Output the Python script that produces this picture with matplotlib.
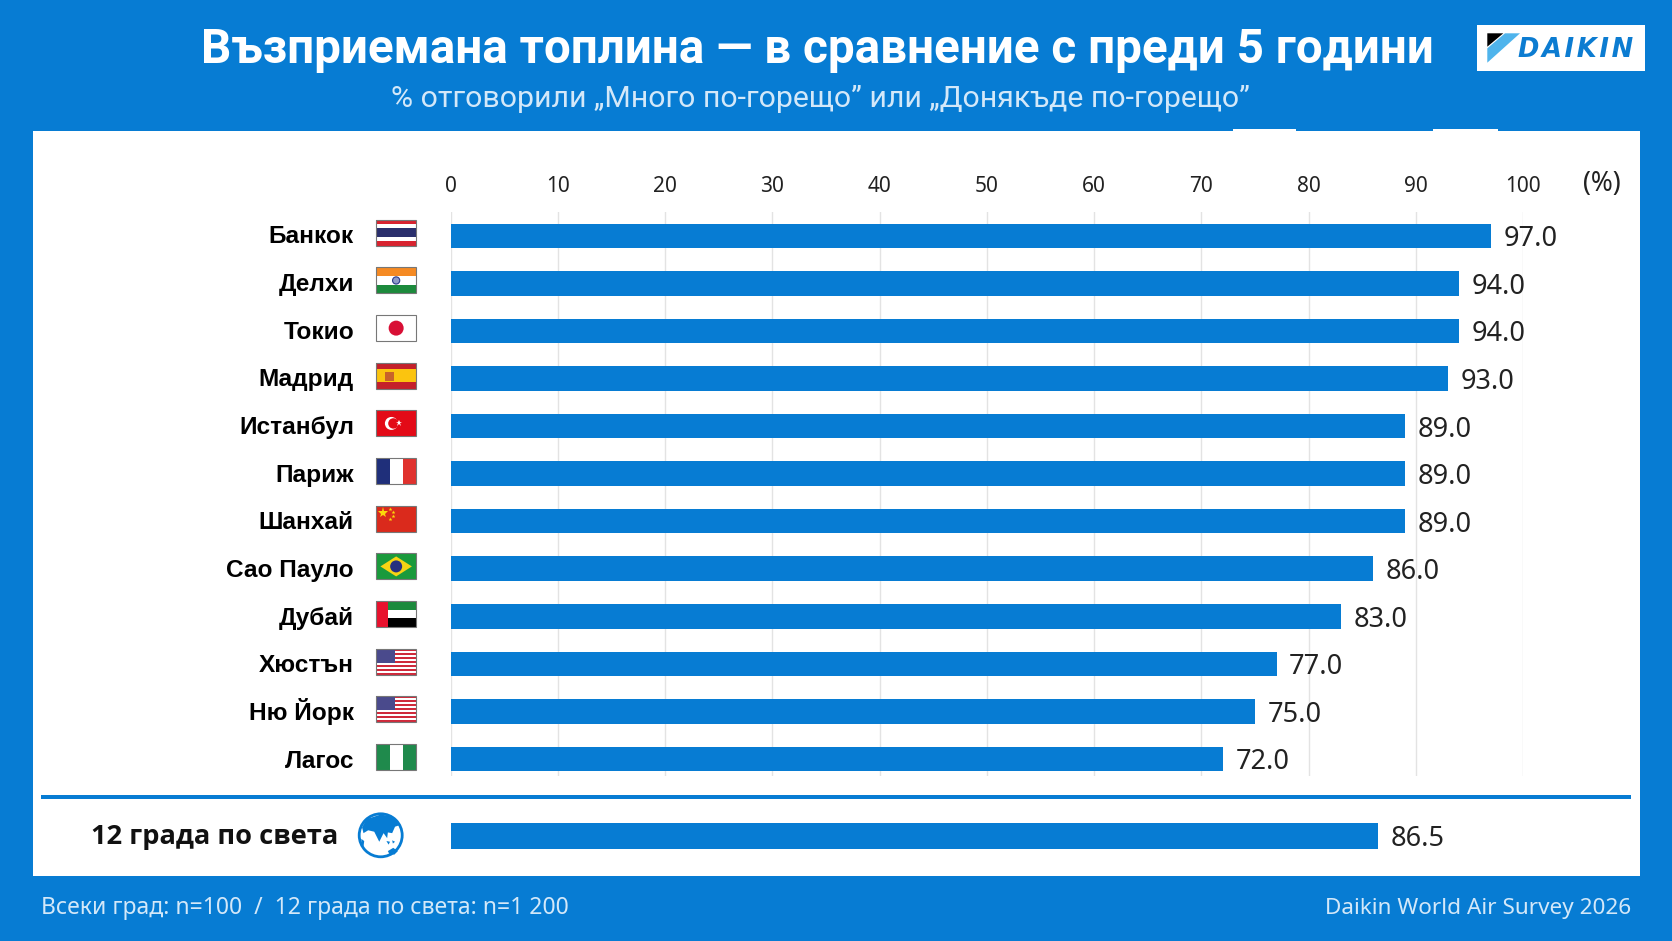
import matplotlib
matplotlib.use('Agg')
import matplotlib.pyplot as plt
from matplotlib.patches import Rectangle, Circle, Polygon

cities = ['Банкок', 'Делхи', 'Токио', 'Мадрид', 'Истанбул', 'Париж', 'Шанхай',
          'Сао Пауло', 'Дубай', 'Хюстън', 'Ню Йорк', 'Лагос']
flags = ['th', 'in', 'jp', 'es', 'tr', 'fr', 'cn', 'br', 'ae', 'us', 'us', 'ng']
values = [97.0, 94.0, 94.0, 93.0, 89.0, 89.0, 89.0, 86.0, 83.0, 77.0, 75.0, 72.0]
global_label = '12 града по света'
global_value = 86.5
ticks = [0, 10, 20, 30, 40, 50, 60, 70, 80, 90, 100]

BLUE = '#077cd3'
W, H = 1672, 941

plt.rcParams['font.family'] = ['Noto Sans', 'DejaVu Sans']

fig = plt.figure(figsize=(W / 100, H / 100), dpi=100, facecolor=BLUE)

# pixel canvas for the panel, logo and flags
bg = fig.add_axes([0, 0, 1, 1], zorder=0)
bg.set_xlim(0, W)
bg.set_ylim(H, 0)
bg.axis('off')


def px_axes(x0, y0, x1, y1):
    return fig.add_axes([x0 / W, 1 - y1 / H, (x1 - x0) / W, (y1 - y0) / H], zorder=2, facecolor='none')


def stripes(x, y, w, h, cols):
    for i, c in enumerate(cols):
        bg.add_patch(Rectangle((x, y + i * h / len(cols)), w, h / len(cols), color=c, lw=0))


def vstripes(x, y, w, h, cols):
    for i, c in enumerate(cols):
        bg.add_patch(Rectangle((x + i * w / len(cols), y), w / len(cols), h, color=c, lw=0))


def draw_flag(code, x, y, w=39.5, h=26):
    if code == 'th':
        hs = ['#d8232f', 'white', '#2a2f6c', '#2a2f6c', 'white', '#d8232f']
        stripes(x, y, w, h, hs)
    elif code == 'in':
        stripes(x, y, w, h, ['#f58a23', 'white', '#1c8a3c'])
        bg.add_patch(Circle((x + w / 2, y + h / 2), 3.6, fc='#8f9bc9', ec='#2b3a8c', lw=0.8))
    elif code == 'jp':
        bg.add_patch(Rectangle((x, y), w, h, fc='white', lw=0))
        bg.add_patch(Circle((x + w / 2, y + h / 2), 7.5, color='#d80f35', lw=0))
    elif code == 'es':
        stripes(x, y, w, h, ['#c4202a', '#fbc40f', '#fbc40f', '#c4202a'])
        bg.add_patch(Rectangle((x + 9, y + 9), 9, 9, color='#c8622a', lw=0))
    elif code == 'tr':
        bg.add_patch(Rectangle((x, y), w, h, color='#e30a17', lw=0))
        bg.add_patch(Circle((x + 15, y + h / 2), 6.5, color='white', lw=0))
        bg.add_patch(Circle((x + 17, y + h / 2), 5.2, color='#e30a17', lw=0))
        bg.plot(x + 23, y + h / 2, marker='*', ms=5, color='white', mew=0)
    elif code == 'fr':
        vstripes(x, y, w, h, ['#1f2f7a', 'white', '#e0322e'])
    elif code == 'cn':
        bg.add_patch(Rectangle((x, y), w, h, color='#da2a1c', lw=0))
        bg.plot(x + 7, y + 7, marker='*', ms=8, color='#fbd90a', mew=0)
        for dx, dy in [(14, 3), (17, 6), (17, 10), (14, 13)]:
            bg.plot(x + dx, y + dy, marker='*', ms=3, color='#fbd90a', mew=0)
    elif code == 'br':
        bg.add_patch(Rectangle((x, y), w, h, color='#1a9a3c', lw=0))
        bg.add_patch(Polygon([(x + 4, y + h / 2), (x + w / 2, y + 3), (x + w - 4, y + h / 2), (x + w / 2, y + h - 3)],
                             color='#f7d414', lw=0))
        bg.add_patch(Circle((x + w / 2, y + h / 2), 6, color='#27307f', lw=0))
    elif code == 'ae':
        stripes(x + w * 0.3, y, w * 0.7, h, ['#1c8a3c', 'white', 'black'])
        bg.add_patch(Rectangle((x, y), w * 0.3, h, color='#e8112d', lw=0))
    elif code == 'us':
        stripes(x, y, w, h, ['#cf2a3b', 'white'] * 6 + ['#cf2a3b'])
        bg.add_patch(Rectangle((x, y), w * 0.46, h * 0.54, color='#4a4a8c', lw=0))
    elif code == 'ng':
        vstripes(x, y, w, h, ['#1f8a4c', 'white', '#1f8a4c'])
    bg.add_patch(Rectangle((x, y), w, h, fill=False, ec='#777777', lw=0.8))


def draw_globe(cx, cy, r):
    land = [
        [(38, 68), (50, 45), (90, 32), (125, 38), (142, 62), (130, 66), (122, 84), (110, 82), (108, 98),
         (98, 84), (86, 108), (72, 80), (55, 76), (42, 84)],
        [(110, 134), (125, 125), (138, 134), (128, 144), (114, 142)],
        [(36, 100), (44, 106), (42, 122), (36, 114)],
        [(106, 106), (116, 108), (112, 116)],
        [(122, 104), (130, 108), (124, 113)],
    ]
    bg.add_patch(Circle((cx, cy), r, fc='white', ec=BLUE, lw=2))
    for pts in land:
        bg.add_patch(Polygon([(cx + (a - 90) / 60 * r, cy + (b - 90) / 60 * r) for a, b in pts], color=BLUE, lw=0))


# white panel and the rule above the global row
bg.add_patch(Rectangle((32.5, 130.5), 1607.5, 745, color='white', lw=0))
bg.add_patch(Rectangle((1233, 129), 63, 2, color='white', lw=0))
bg.add_patch(Rectangle((1433, 129), 65, 2, color='white', lw=0))
bg.add_patch(Rectangle((41, 794.7), 1590, 4.6, color=BLUE, lw=0))

# title block
bg.text(817.5, 62.5, 'Възприемана топлина — в сравнение с преди 5 години', color='white',
        fontsize=34.3, fontweight='bold', family='Roboto', ha='center', va='baseline')
bg.text(820.5, 106.5, '% отговорили „Много по-горещо” или „Донякъде по-горещо”', color='#d3e8f9',
        fontsize=21.8, family='Roboto', ha='center', va='baseline')

# logo
bg.add_patch(Rectangle((1477.3, 25), 167.7, 45.7, color='white', lw=0))
bg.add_patch(Polygon([(1487.3, 33.3), (1503.3, 33.3), (1487.3, 46.7)], color='black', lw=0))
bg.add_patch(Polygon([(1487.3, 62.7), (1520, 33.3), (1505, 33.3), (1487.3, 48.3)], color='#4fb4ec', lw=0))
bg.text(1576, 57, '\u200a'.join('DAIKIN'), color='#0c7cd1', fontsize=18.5, fontweight='bold', style='italic',
        family='DejaVu Sans', ha='center', va='baseline')

# footer
bg.text(41, 914, 'Всеки град: n=100  /  12 града по света: n=1 200', color='#d3e8f9', fontsize=16.5, va='baseline')
bg.text(1631, 914, 'Daikin World Air Survey 2026', color='#d3e8f9', fontsize=16.2, ha='right', va='baseline')

# city bars
row0, pitch = 235.8, 47.56
ax_top, ax_bot = 212, 776
x_left, x_right = 450.7, 1523.2
ax = px_axes(x_left, ax_top, x_right, ax_bot)
ypos = list(range(len(cities)))
ax.barh(ypos, values, height=0.515, color=BLUE, zorder=3)
ax.set_xlim(0, 100)
ax.set_ylim((ax_bot - row0) / pitch, (ax_top - row0) / pitch)
ax.set_xticks(ticks)
ax.xaxis.tick_top()
ax.tick_params(axis='x', length=0, pad=11, labelsize=15, labelcolor='#222222')
ax.set_yticks([])
ax.grid(axis='x', color='#e3e3e3', lw=1, zorder=1)
for s in ax.spines.values():
    s.set_visible(False)
for y, v in zip(ypos, values):
    ax.annotate(f'{v:.1f}', (v, y), xytext=(9, 0), textcoords='offset points', va='center_baseline',
                fontsize=19.5, color='#222222', annotation_clip=False)
bg.text(1601.5, 183.5, '(%)', fontsize=19, color='#222222', ha='center', va='center')

for i, (c, f) in enumerate(zip(cities, flags)):
    yc = row0 + i * 47.66
    bg.text(354, yc + 7.5, c, fontsize=17.6, fontweight='bold', family='Liberation Sans',
            color='black', ha='right', va='baseline')
    draw_flag(f, 376.4, yc - 16)

# global row
ax2 = px_axes(x_left, 810, x_right, 862)
ax2.barh([0], [global_value], height=0.5, color=BLUE)
ax2.set_xlim(0, 100)
ax2.set_ylim(-0.5, 0.5)
ax2.axis('off')
ax2.annotate(f'{global_value:.1f}', (global_value, 0), xytext=(9, 0), textcoords='offset points',
             va='center_baseline', fontsize=19.5, color='#222222', annotation_clip=False)
bg.text(91, 844, global_label, fontsize=19.6, fontweight='bold', family='Open Sans', color='#111111', va='baseline')
draw_globe(380.7, 835.3, 21.5)

fig.savefig('out.png', dpi=100, facecolor=fig.get_facecolor())
